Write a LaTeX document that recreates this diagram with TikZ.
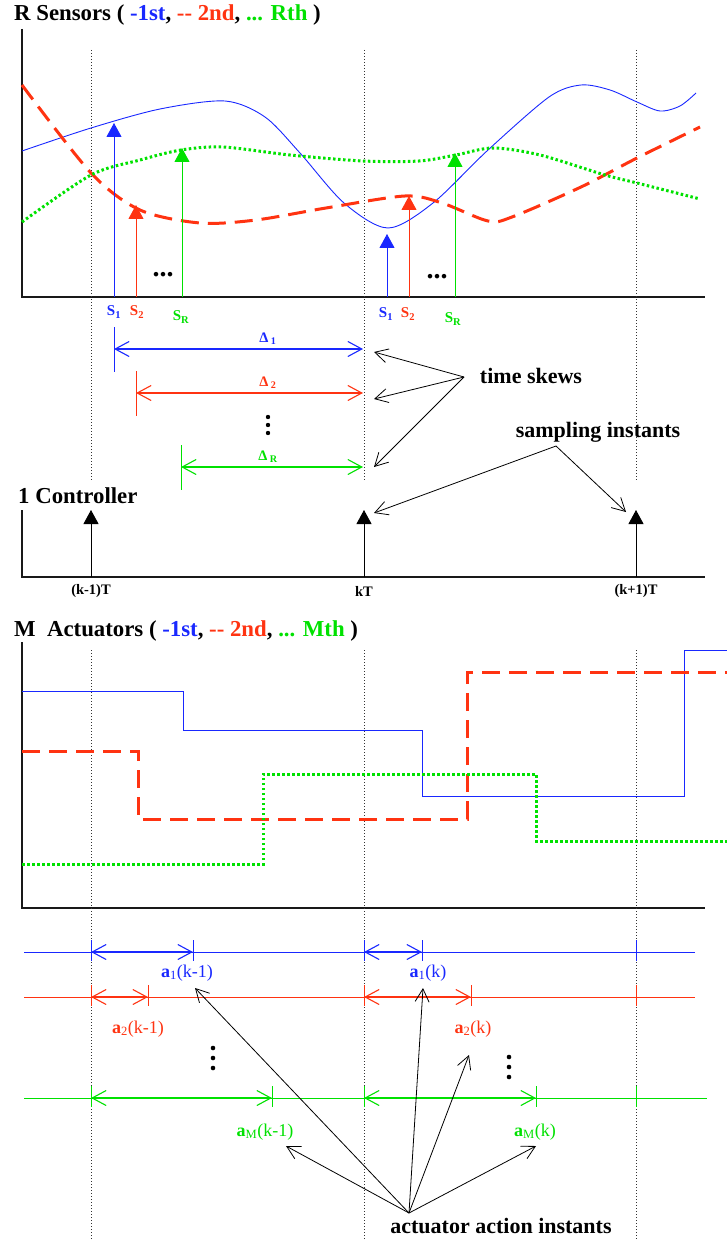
\documentclass[tikz,border=0pt]{standalone}
\usepackage{fontspec}
\setmainfont{Liberation Serif}
\usepackage{xcolor}
\usetikzlibrary{arrows.meta, positioning, calc}

\definecolor{sblue}{RGB}{25,40,255}
\definecolor{sred}{RGB}{255,51,17}
\definecolor{sgreen}{RGB}{0,225,0}

\begin{document}
\begin{tikzpicture}[
    x=1pt, y=-1pt,
    axis/.style={line width=1.2pt, draw=black!90},
    tline/.style={line width=0.6pt, draw=black!80, dash pattern=on 1pt off 2pt},
    sigone/.style={sblue, line width=0.9pt},
    sigtwo/.style={sred, line width=3pt, dash pattern=on 18pt off 9pt},
    siglast/.style={sgreen, line width=3pt, dash pattern=on 2.5pt off 2.5pt},
    sample/.style={-{Triangle[length=14pt,width=15pt]}, line width=0.9pt},
    skew/.style={{Straight Barb[length=14pt,width=15pt]}-{Straight Barb[length=14pt,width=15pt]}, line width=1.1pt},
    pointer/.style={-{Straight Barb[length=13pt,width=14pt]}, line width=0.8pt},
    title/.style={anchor=base west, inner sep=0pt, font=\fontsize{22.8}{24}\selectfont\bfseries},
    note/.style={inner sep=0pt, font=\fontsize{22}{24}\selectfont\bfseries},
    slabel/.style={inner sep=0pt, font=\fontsize{15}{16}\selectfont\bfseries},
    tlabel/.style={inner sep=0pt, font=\fontsize{14.5}{16}\selectfont\bfseries},
    alabel/.style={inner sep=0pt, font=\fontsize{18}{20}\selectfont},
    hdots/.style={inner sep=0pt, font=\fontsize{28}{28}\selectfont\bfseries},
    vdot/.style={fill=black},
]
\useasboundingbox (0,0) rectangle (727,1241);

% ---------------- R sensors
\node[title] (sensorstitle) at (14,21) {R Sensors ( \textcolor{sblue}{-1st}, \textcolor{sred}{{-}{-} 2nd}, \textcolor{sgreen}{... Rth} )};
\draw[axis] (22,29) -- (22,297) -- (705,297);
\foreach \x in {91,364,636}
    \draw[tline] (\x,50) -- (\x,480);

\draw[sigone] plot[smooth] coordinates {(22,151) (91,128) (160,109) (225,101) (265,117) (300,153) (344,203) (388,228) (433,203) (488,150) (549,97) (581,85) (610,90) (637,102) (660,111) (680,106) (696,93)};
\draw[sigtwo] plot[smooth] coordinates {(22,85) (91,173) (140,210) (200,223) (256,220) (326,208) (405,196) (442,203) (488,221) (512,217) (581,187) (637,158) (700,127)};
\draw[siglast] plot[smooth] coordinates {(22,222) (91,175) (140,160) (181,150) (223,147) (290,155) (363,161) (419,161) (456,155) (493,148) (540,155) (605,175) (637,183) (700,199)};

\foreach \n/\x/\yt/\c in {bone/114/123/sblue, rone/136/205/sred, gone/182/148/sgreen,
                          btwo/387/234/sblue, rtwo/409/196/sred, gtwo/455/153/sgreen} {
    \coordinate (\n base) at (\x,297);
    \coordinate (\n tip) at (\x,\yt);
    \draw[sample, \c] (\n base) -- (\n tip);
}
\node[hdots] (dotsa) at (163,275) {...};
\node[hdots] (dotsb) at (437,277) {...};

\node[slabel, sblue] (sonea) at (114,312) {S\textsubscript{1}};
\node[slabel, sred] (stwoa) at (137,312) {S\textsubscript{2}};
\node[slabel, sgreen] (sra) at (181,317) {S\textsubscript{R}};
\node[slabel, sblue] (soneb) at (386,314) {S\textsubscript{1}};
\node[slabel, sred] (stwob) at (408,314) {S\textsubscript{2}};
\node[slabel, sgreen] (srb) at (453,319) {S\textsubscript{R}};

% time skews
\foreach \n/\x/\y/\c/\s in {done/114/349/sblue/1, dtwo/136/393/sred/2, dr/181/467/sgreen/R} {
    \draw[\c, line width=1pt] (\x,\y-22) -- (\x,\y+23);
    \coordinate (\n start) at (\x,\y);
    \coordinate (\n end) at (363,\y);
    \draw[skew, \c] (\n start) -- (\n end);
    \node[tlabel, \c] (\n lab) at (268,\y-10) {Δ\,\textsubscript{\s}};
}
\foreach \d in {-8,0,8}
    \fill[vdot] (268,425+\d) circle (2.2);

\node[note] (skews) at (531,376) {time skews};
\coordinate (skv) at (464,377);
\coordinate (skone) at (374,352);
\coordinate (sktwo) at (374,399);
\coordinate (skr) at (374,467);
\foreach \t in {skone, sktwo, skr}
    \draw[pointer] (skv) -- (\t);

% ---------------- controller
\node[note] (sampling) at (598,432) {sampling instants};
\coordinate (smv) at (556,446);

\node[title] (ctrltitle) at (18,503) {1 Controller};
\draw[axis] (22,510) -- (22,577) -- (705,577);
\foreach \n/\x/\lab in {ckm/91/(k-1)T, ck/364/kT, ckp/636/(k+1)T} {
    \coordinate (\n base) at (\x,577);
    \coordinate (\n tip) at (\x,510);
    \draw[sample, black] (\n base) -- (\n tip);
    \node[tlabel] (\n lab) at (\x,591) {\lab};
}
\coordinate (smk) at (374,513);
\coordinate (smkp) at (626,512);
\draw[pointer] (smv) -- (smk);
\draw[pointer] (smv) -- (smkp);

% ---------------- M actuators
\node[title] (acttitle) at (14,636) {M\enspace Actuators ( \textcolor{sblue}{-1st}, \textcolor{sred}{{-}{-} 2nd}, \textcolor{sgreen}{... Mth} )};
\draw[axis] (22,642) -- (22,908) -- (705,908);
\foreach \x in {91,364,636}
    \draw[tline] (\x,650) -- (\x,1241);

\draw[sigone] (22,691) -| (183,730) -| (422,796) -| (684,650) -- (727,650);
\draw[sigtwo] (22,751) -| (138,819) -| (467,672) -- (727,672);
\draw[siglast] (22,864) -| (263,774) -| (536,841) -- (727,841);

% action instants
\foreach \n/\y/\xa/\xb/\xe/\c in {aone/952/193/422/695/sblue, atwo/997/148/471/695/sred, am/1098/272/536/707/sgreen} {
    \draw[\c, line width=0.9pt] (24,\y) -- (\xe,\y);
    \foreach \x in {91,\xa,364,\xb,636}
        \draw[\c, line width=0.9pt] (\x,\y-12) -- (\x,\y+9);
    \coordinate (\n km) at (91,\y);
    \coordinate (\n kmend) at (\xa,\y);
    \coordinate (\n k) at (364,\y);
    \coordinate (\n kend) at (\xb,\y);
    \draw[skew, \c] (\n km) -- (\n kmend);
    \draw[skew, \c] (\n k) -- (\n kend);
}
\node[alabel, sblue] (aonekmlab) at (187,973) {\textbf{a}\textsubscript{1}(k-1)};
\node[alabel, sblue] (aoneklab) at (428,973) {\textbf{a}\textsubscript{1}(k)};
\node[alabel, sred] (atwokmlab) at (138,1029) {\textbf{a}\textsubscript{2}(k-1)};
\node[alabel, sred] (atwoklab) at (473,1029) {\textbf{a}\textsubscript{2}(k)};
\node[alabel, sgreen] (amkmlab) at (265,1132) {\textbf{a}\textsubscript{M}(k-1)};
\node[alabel, sgreen] (amklab) at (535,1132) {\textbf{a}\textsubscript{M}(k)};
\foreach \d in {-10,0,10} {
    \fill[vdot] (213,1058+\d) circle (2.3);
    \fill[vdot] (509,1067+\d) circle (2.3);
}

\node[note] (actions) at (501,1226) {actuator action instants};
\coordinate (acv) at (409,1213);
\coordinate (pamkm) at (286,1146);
\coordinate (paonekm) at (195,988);
\coordinate (paonek) at (423,988);
\coordinate (patwok) at (469,1055);
\coordinate (pamk) at (536,1146);
\foreach \t in {pamkm, paonekm, paonek, patwok, pamk}
    \draw[pointer] (acv) -- (\t);
\end{tikzpicture}
\end{document}
